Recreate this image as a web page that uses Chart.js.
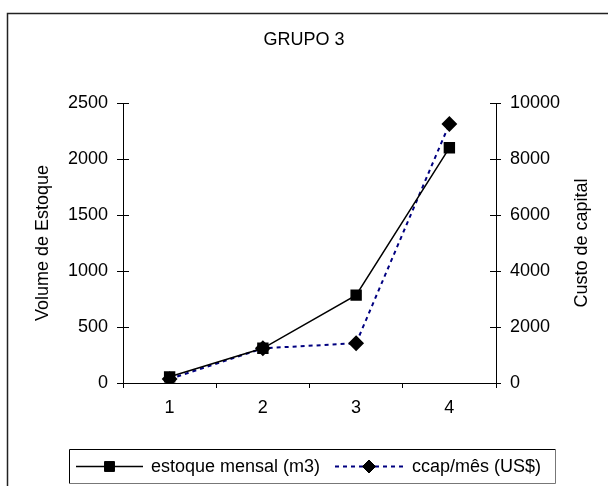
<!DOCTYPE html>
<html>
<head>
<meta charset="utf-8">
<script src="https://cdn.jsdelivr.net/npm/chart.js@4"></script>
<style>
  html, body { margin: 0; padding: 0; background: #fff; overflow: hidden; }
  #wrap { position: relative; width: 608px; height: 486px; }
</style>
</head>
<body>
<div id="wrap"><canvas id="chart" width="608" height="486"></canvas></div>
<script>
// data
const categories = ['1', '2', '3', '4'];
const estoqueMensal = [55, 310, 785, 2100];   // left axis, m3
const ccapMes = [140, 1240, 1420, 9250];       // right axis, US$
const leftTicks = [0, 500, 1000, 1500, 2000, 2500];
const rightTicks = [0, 2000, 4000, 6000, 8000, 10000];
const rightTitle = 'Custo de capital';

const FONT = "'Liberation Sans', Arial, sans-serif";
Chart.defaults.font.family = FONT;
Chart.defaults.font.size = 18;
Chart.defaults.color = '#000';

// outer frame, ticks that cross the value axes, right axis title (reads upward)
const framePlugin = {
  id: 'frame',
  beforeDraw(chart) {
    const { ctx } = chart;
    ctx.save();
    ctx.fillStyle = '#fff';
    ctx.fillRect(0, 0, chart.width, chart.height);
    ctx.strokeStyle = '#222';
    ctx.lineWidth = 1.5;
    ctx.strokeRect(7.5, 13.5, 700, 600);
    ctx.restore();
  },
  afterDraw(chart) {
    const { ctx, chartArea } = chart;
    ctx.save();
    ctx.strokeStyle = '#000';
    ctx.lineWidth = 1;
    ['y', 'y1'].forEach(id => {
      const s = chart.scales[id];
      const x = id === 'y' ? s.right : s.left;
      const dir = id === 'y' ? 1 : -1;
      s.ticks.forEach((t, i) => {
        const y = Math.round(s.getPixelForTick(i)) + 0.5;
        ctx.beginPath();
        ctx.moveTo(x, y);
        ctx.lineTo(x + dir * 6, y);
        ctx.stroke();
      });
    });
    ctx.translate(582, (chartArea.top + chartArea.bottom) / 2);
    ctx.rotate(-Math.PI / 2);
    ctx.fillStyle = '#000';
    ctx.font = '18px ' + FONT;
    ctx.textAlign = 'center';
    ctx.textBaseline = 'middle';
    ctx.fillText(rightTitle, 0, 0);
    ctx.restore();
  }
};

// boxed legend with line + marker samples
const boxLegend = {
  id: 'boxLegend',
  afterDraw(chart) {
    const { ctx } = chart;
    const top = 449, bottom = 484, left = 69, right = 556;
    const mid = (top + bottom) / 2;
    ctx.save();
    ctx.fillStyle = '#fff';
    ctx.fillRect(left, top, right - left, bottom - top);
    ctx.lineWidth = 1;
    ctx.strokeStyle = '#000';
    ctx.beginPath();
    ctx.moveTo(left + 0.5, bottom);
    ctx.lineTo(left + 0.5, top + 0.5);
    ctx.lineTo(right, top + 0.5);
    ctx.stroke();
    ctx.strokeStyle = '#777';
    ctx.beginPath();
    ctx.moveTo(right - 0.5, top);
    ctx.lineTo(right - 0.5, bottom - 0.5);
    ctx.lineTo(left, bottom - 0.5);
    ctx.stroke();

    const items = [
      { x0: 76, x1: 143, tx: 151 },
      { x0: 335, x1: 403, tx: 412 }
    ];
    chart.data.datasets.forEach((ds, i) => {
      const it = items[i];
      ctx.save();
      ctx.strokeStyle = ds.borderColor;
      ctx.lineWidth = ds.borderWidth;
      ctx.setLineDash(ds.borderDash || []);
      ctx.beginPath();
      ctx.moveTo(it.x0, mid);
      ctx.lineTo(it.x1, mid);
      ctx.stroke();
      ctx.restore();
      const cx = (it.x0 + it.x1) / 2;
      ctx.fillStyle = '#000';
      ctx.strokeStyle = '#000';
      Chart.helpers.drawPoint(ctx, {
        pointStyle: ds.pointStyle, radius: ds.pointRadius, borderWidth: 1, rotation: 0
      }, cx, mid);
      ctx.fillStyle = '#000';
      ctx.font = '18px ' + FONT;
      ctx.textBaseline = 'middle';
      ctx.textAlign = 'left';
      ctx.fillText(ds.label, it.tx, mid + 1);
    });
    ctx.restore();
  }
};

const plain = v => String(v);

new Chart(document.getElementById('chart'), {
  type: 'line',
  data: {
    labels: categories,
    datasets: [
      {
        label: 'estoque mensal (m3)',
        data: estoqueMensal,
        yAxisID: 'y',
        borderColor: '#000',
        borderWidth: 1.5,
        pointStyle: 'rect',
        pointRadius: 7,
        pointBackgroundColor: '#000',
        pointBorderColor: '#000',
        tension: 0
      },
      {
        label: 'ccap/mês (US$)',
        data: ccapMes,
        yAxisID: 'y1',
        borderColor: '#000080',
        borderWidth: 2,
        borderDash: [4, 4],
        pointStyle: 'rectRot',
        pointRadius: 6.5,
        pointBackgroundColor: '#000',
        pointBorderColor: '#000',
        tension: 0
      }
    ]
  },
  options: {
    responsive: false,
    animation: false,
    layout: { padding: 0 },
    plugins: {
      legend: { display: false },
      tooltip: { enabled: false },
      title: {
        display: true,
        text: 'GRUPO 3',
        color: '#000',
        font: { size: 18, weight: 'normal' },
        padding: { top: 29, bottom: 52.4 }
      }
    },
    scales: {
      x: {
        offset: true,
        grid: { offset: true, drawOnChartArea: false, color: '#000', tickLength: 5 },
        border: { color: '#000', width: 1 },
        ticks: { padding: 9, color: '#000' },
        afterFit: s => { s.height = 103; }
      },
      y: {
        position: 'left',
        min: 0,
        max: 2500,
        afterBuildTicks: s => { s.ticks = leftTicks.map(v => ({ value: v })); },
        grid: { drawOnChartArea: false, color: '#000', tickLength: 6 },
        border: { color: '#000', width: 1 },
        ticks: { padding: 9, color: '#000', callback: plain },
        title: { display: true, text: 'Volume de Estoque', color: '#000', padding: { top: 32, bottom: 0 } },
        afterFit: s => { s.width = 123; }
      },
      y1: {
        position: 'right',
        min: 0,
        max: 10000,
        afterBuildTicks: s => { s.ticks = rightTicks.map(v => ({ value: v })); },
        grid: { drawOnChartArea: false, color: '#000', tickLength: 5 },
        border: { color: '#000', width: 1 },
        ticks: { padding: 9, color: '#000', callback: plain },
        afterFit: s => { s.width = 112; }
      }
    }
  },
  plugins: [framePlugin, boxLegend]
});
</script>
</body>
</html>
